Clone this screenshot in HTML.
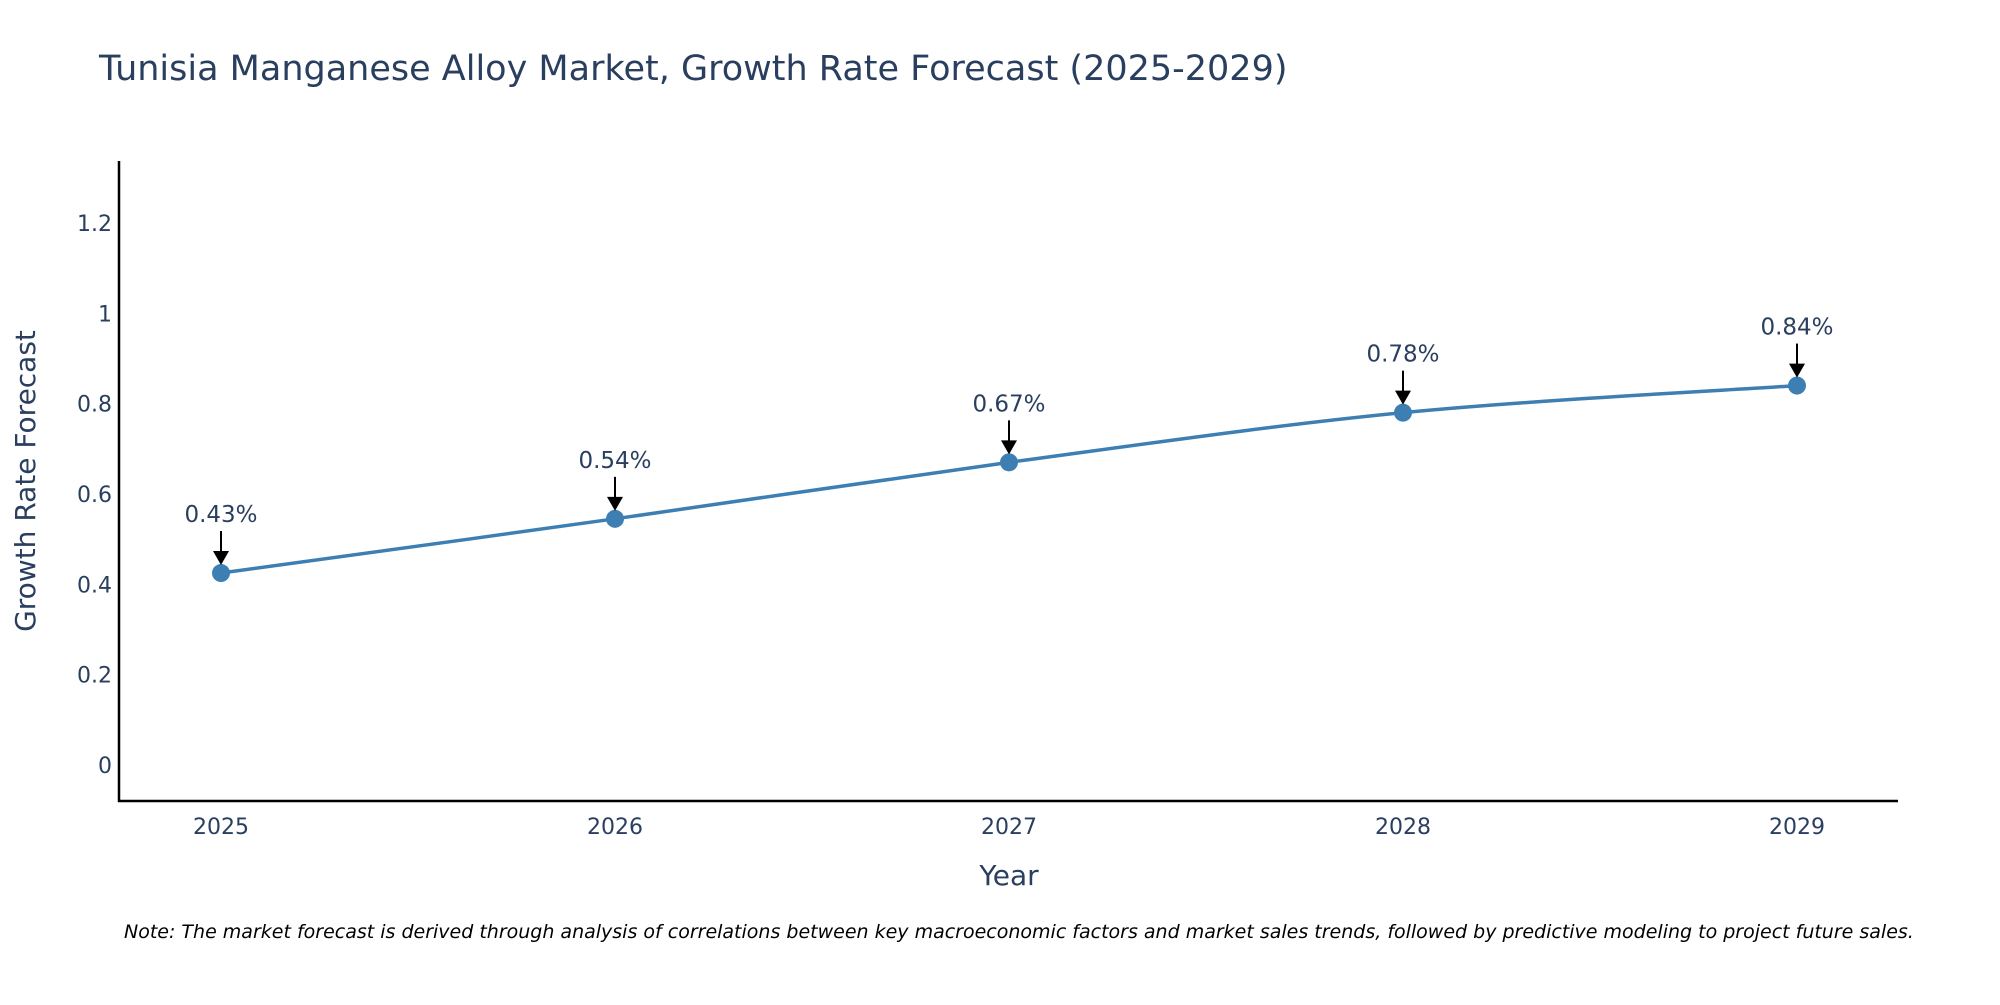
<!DOCTYPE html>
<html><head><meta charset="utf-8"><style>
body{margin:0;background:#fff;}
svg text{font-family:"DejaVu Sans","Liberation Sans",sans-serif;fill:#2a3f5f;}
</style></head><body>
<svg id="chart" width="2000" height="1000" xmlns="http://www.w3.org/2000/svg">
<text x="99" y="80" font-size="35">Tunisia Manganese Alloy Market, Growth Rate Forecast (2025-2029)</text>
<g id="yticks"></g>
<g id="xticks"></g>
<line x1="119" y1="161" x2="119" y2="802" stroke="#000" stroke-width="2.5"/>
<line x1="118" y1="801" x2="1898" y2="801" stroke="#000" stroke-width="2.5"/>
<text transform="translate(35,481) rotate(-90)" text-anchor="middle" font-size="28">Growth Rate Forecast</text>
<text x="1009" y="885" text-anchor="middle" font-size="28">Year</text>
<g id="series"></g>
<g id="annots"></g>
<text x="124" y="938" font-size="19" font-style="italic" style="fill:#000">Note: The market forecast is derived through analysis of correlations between key macroeconomic factors and market sales trends, followed by predictive modeling to project future sales.</text>
</svg>
<script>
const years = [2025, 2026, 2027, 2028, 2029];
const values = [0.425, 0.545, 0.67, 0.78, 0.84];
const labels = ["0.43%", "0.54%", "0.67%", "0.78%", "0.84%"];
const yTicks = [0, 0.2, 0.4, 0.6, 0.8, 1, 1.2];
const yTickLabels = ["0", "0.2", "0.4", "0.6", "0.8", "1", "1.2"];

const NS = "http://www.w3.org/2000/svg";
const x = v => 221 + (v - 2025) * 394;
const y = v => 765 - v * 451.7;
function mk(tag, attrs, parent, txt){const e=document.createElementNS(NS,tag);for(const k in attrs)e.setAttribute(k,attrs[k]);if(txt!==undefined)e.textContent=txt;parent.appendChild(e);return e;}

const yg=document.getElementById('yticks');
yTicks.forEach((t,i)=>{const e=mk('text',{x:112,y:y(t)+8,'text-anchor':'end','font-size':22},yg,yTickLabels[i]);

});
const xg=document.getElementById('xticks');
years.forEach(yr=>{const e=mk('text',{x:x(yr),y:834,'text-anchor':'middle','font-size':22},xg,String(yr));

});

const pts=years.map((yr,i)=>[x(yr),y(values[i])]);
let d=`M${pts[0][0]},${pts[0][1]}`;
for(let i=0;i<pts.length-1;i++){const p0=pts[Math.max(0,i-1)],p1=pts[i],p2=pts[i+1],p3=pts[Math.min(pts.length-1,i+2)];
const c1=[p1[0]+(p2[0]-p0[0])/6,p1[1]+(p2[1]-p0[1])/6],c2=[p2[0]-(p3[0]-p1[0])/6,p2[1]-(p3[1]-p1[1])/6];
d+=` C${c1[0]},${c1[1]} ${c2[0]},${c2[1]} ${p2[0]},${p2[1]}`;}
const sg=document.getElementById('series');
const line=mk('path',{d:d,fill:'none',stroke:'#3d7fb3','stroke-width':3.5},sg);


pts.forEach(p=>{const c=mk('circle',{cx:p[0],cy:p[1],r:9,fill:'#3d7fb3'},sg);

});

const ag=document.getElementById('annots');
pts.forEach((p,i)=>{
const l=mk('line',{x1:p[0],y1:p[1]-42,x2:p[0],y2:p[1]-20,stroke:'#000','stroke-width':2},ag);


const h=mk('polygon',{points:`${p[0]-8},${p[1]-22} ${p[0]+8},${p[1]-22} ${p[0]},${p[1]-8}`,fill:'#000'},ag);


const t=mk('text',{x:p[0],y:p[1]-51,'text-anchor':'middle','font-size':23},ag,labels[i]);

});
</script>
</body></html>
